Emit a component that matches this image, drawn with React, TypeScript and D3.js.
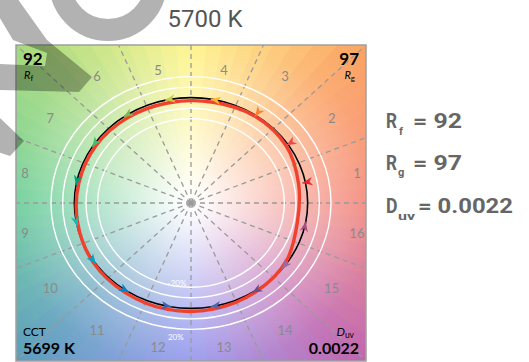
import React from 'react';
import * as d3 from 'd3';

const W = 529;
const H = 362;

// hue-bin labels and standard TM-30 bin colours
const binLabels = ['1','2','3','4','5','6','7','8','9','10','11','12','13','14','15','16'];
const binColors = ['#E62828','#E74B4B','#FB812E','#FFB529','#CBCA46','#7EB94C','#41C06D','#009C7C','#16BCB0','#00A4BF','#0085C3','#3B62AA','#4568AE','#6A4E85','#9D69A1','#A74F81'];
// relative chroma of the test source (red curve) at each bin centre
const testChroma = [0.94,0.98,0.99,0.975,0.97,0.975,0.98,0.98,0.99,1.01,1.02,1.03,1.025,1.01,0.985,0.93];
// arrow heads: relative chroma and hue shift (degrees)
const arrowChroma = [0.975,0.985,0.99,1.0,1.0,1.0,1.0,1.0,1.0,1.0,1.0,1.0,1.0,1.0,1.0,1.0];
const arrowHueShift = [0,0,0,1.5,1.5,1.5,1.5,1.5,1.5,1.5,1.5,1.5,-1.5,-2,-5,1];
const circleLevels = [0.8,0.9,1.1,1.2];
const hueStopAngles = [0,45,90,135,180,225,270,315,360];
const hueStopColors = ['#f27f72','#fba260','#fff37c','#a3d97c','#5cc98e','#5a9cbc','#8a8cec','#c064ae','#f27f72'];

const title = '5700 K';
const Rf = '92';
const Rg = '97';
const CCT = '5699 K';
const Duv = '0.0022';

const box = { x0: 16, x1: 366, y0: 45, y1: 361 };

export default function App() {
  const x = d3.scaleLinear().domain([-1.5, 1.5]).range([box.x0, box.x1]);
  const y = d3.scaleLinear().domain([1.5, -1.5]).range([box.y0, box.y1]);
  const hueScale = d3.scaleLinear<string>().domain(hueStopAngles).range(hueStopColors).interpolate(d3.interpolateRgb);
  const rad = (deg: number) => (deg * Math.PI) / 180;
  const P = (r: number, deg: number): [number, number] => [x(r * Math.cos(rad(deg))), y(r * Math.sin(rad(deg)))];

  // background wedges
  const wedges = d3.range(72).map((k) => {
    const a0 = k * 5, a1 = (k + 1) * 5 + 0.8;
    const [cx, cy] = P(0, 0);
    const p0 = P(2.4, a0), p1 = P(2.4, (a0 + a1) / 2), p2 = P(2.4, a1);
    return { d: `M${cx},${cy}L${p0[0]},${p0[1]}L${p1[0]},${p1[1]}L${p2[0]},${p2[1]}Z`, c: hueScale(k * 5 + 2.5) };
  });

  const cx0 = x(0), cy0 = y(0);
  const sx = x(1) - x(0), sy = y(0) - y(1);

  const binAngle = (i: number) => 11.25 + 22.5 * i;

  const line = d3.line<[number, number]>().curve(d3.curveCatmullRomClosed.alpha(0.5));
  const testPts = testChroma.map((r, i) => P(r, binAngle(i)));

  const arrows = binColors.map((c, i) => {
    const ref = P(1, binAngle(i));
    const tp = P(arrowChroma[i], binAngle(i) + arrowHueShift[i]);
    let dx = tp[0] - ref[0], dy = tp[1] - ref[1];
    const L = Math.hypot(dx, dy) || 1;
    dx /= L; dy /= L;
    const len = 10, hw = 4.2;
    const bx = tp[0] - dx * len, by = tp[1] - dy * len;
    const d = `M${tp[0]},${tp[1]}L${bx - dy * hw},${by + dx * hw}L${bx + dx * 3},${by + dy * 3}L${bx + dy * hw},${by - dx * hw}Z`;
    return { d, c, ref, tp };
  });

  const labelPos = binLabels.map((t, i) => {
    const a = rad(binAngle(i));
    let ux = 1.45 * Math.cos(a), uy = 1.45 * Math.sin(a);
    uy = Math.max(-1.37, Math.min(1.263, uy));
    return { t, px: x(ux), py: y(uy) };
  });

  const font = 'Lato, "Open Sans", sans-serif';

  return (
    <svg width={W} height={H} style={{ position: 'fixed', left: 0, top: 0, background: '#fff' }}>
      <defs>
        <clipPath id="boxclip">
          <rect x={box.x0} y={box.y0} width={box.x1 - box.x0} height={box.y1 - box.y0} />
        </clipPath>
        <radialGradient id="whiteFade" gradientUnits="userSpaceOnUse" cx={0} cy={0} r={1}
          gradientTransform={`translate(${cx0},${cy0}) scale(${sx * 2.12},${sy * 2.12})`}>
          <stop offset="0" stopColor="#fff" stopOpacity={1} />
          <stop offset="0.06" stopColor="#fff" stopOpacity={0.95} />
          <stop offset="0.45" stopColor="#fff" stopOpacity={0.45} />
          <stop offset="0.75" stopColor="#fff" stopOpacity={0.12} />
          <stop offset="1" stopColor="#fff" stopOpacity={0} />
        </radialGradient>
      </defs>

      <text x={205} y={26.5} textAnchor="middle" fontFamily="Roboto, 'Liberation Sans', sans-serif" fontSize={24} fill="#555">{title}</text>

      <g clipPath="url(#boxclip)">
        {wedges.map((w, i) => <path key={i} d={w.d} fill={w.c} />)}
        <rect x={box.x0} y={box.y0} width={box.x1 - box.x0} height={box.y1 - box.y0} fill="url(#whiteFade)" />
        {d3.range(16).map((k) => {
          const p = P(2.4, k * 22.5);
          return <line key={k} x1={cx0} y1={cy0} x2={p[0]} y2={p[1]} stroke="#9a9a9a" strokeWidth={1.3} strokeDasharray="5,4" />;
        })}
        {circleLevels.map((r) => (
          <ellipse key={r} cx={cx0} cy={cy0} rx={sx * r} ry={sy * r} fill="none" stroke="#fff" strokeWidth={1.4} />
        ))}
        <ellipse cx={cx0} cy={cy0} rx={sx} ry={sy} fill="none" stroke="#000" strokeWidth={1.6} />
        <path d={line(testPts) || ''} fill="none" stroke="#f0412f" strokeWidth={3.4} strokeLinejoin="round" />
        {arrows.map((a, i) => (
          <g key={i}>
            <line x1={a.ref[0]} y1={a.ref[1]} x2={a.tp[0]} y2={a.tp[1]} stroke={a.c} strokeWidth={1.5} />
            <path d={a.d} fill={a.c} />
          </g>
        ))}
        {labelPos.map((l) => (
          <text key={l.t} x={l.px} y={l.py} textAnchor="middle" dominantBaseline="central" fontFamily={font} fontSize={13} fill="#8a8a8a">{l.t}</text>
        ))}
        <text x={x(-0.12)} y={y(-0.76)} textAnchor="middle" dominantBaseline="central" fontFamily={font} fontSize={8} fill="#fff">-20%</text>
        <text x={x(-0.13)} y={y(-1.27)} textAnchor="middle" dominantBaseline="central" fontFamily={font} fontSize={8} fill="#fff">20%</text>

        <text x={23} y={64.5} fontFamily={font} fontWeight={700} fontSize={17} fill="#000">{Rf}</text>
        <text x={24} y={79} fontFamily={font} fontSize={11} fill="#000"><tspan fontStyle="italic">R</tspan><tspan fontSize={8} dy={2}>f</tspan></text>
        <text x={359} y={64.5} textAnchor="end" fontFamily={font} fontWeight={700} fontSize={17} fill="#000">{Rg}</text>
        <text x={355} y={79} textAnchor="end" fontFamily={font} fontSize={11} fill="#000"><tspan fontStyle="italic">R</tspan><tspan fontSize={8} dy={2}>g</tspan></text>
        <text x={23} y={336} fontFamily={font} fontSize={12} fill="#000">CCT</text>
        <text x={23} y={354} fontFamily={font} fontWeight={700} fontSize={16} fill="#000">{CCT}</text>
        <text x={354} y={336} textAnchor="end" fontFamily={font} fontSize={12} fill="#000"><tspan fontStyle="italic">D</tspan><tspan fontSize={8.5} dy={1.5}>uv</tspan></text>
        <text x={359} y={354} textAnchor="end" fontFamily={font} fontWeight={700} fontSize={16} fill="#000">{Duv}</text>
      </g>
      <rect x={box.x0} y={box.y0} width={box.x1 - box.x0} height={box.y1 - box.y0} fill="none" stroke="#a0a0a0" strokeWidth={1.5} />

      <g fontFamily="Roboto, 'Liberation Sans', sans-serif" fontWeight={700} fill="#666">
        <text x={386} y={128.3} fontSize={21} textLength={11} lengthAdjust="spacingAndGlyphs">R</text>
        <text x={399} y={134.5} fontSize={11}>f</text>
        <text x={413} y={128.3} fontSize={21} textLength={49} lengthAdjust="spacingAndGlyphs">= {Rf}</text>
        <text x={386} y={170} fontSize={21} textLength={11} lengthAdjust="spacingAndGlyphs">R</text>
        <text x={398} y={176} fontSize={11}>g</text>
        <text x={413} y={170} fontSize={21} textLength={49} lengthAdjust="spacingAndGlyphs">= {Rg}</text>
        <text x={386} y={213} fontSize={21} textLength={11.5} lengthAdjust="spacingAndGlyphs">D</text>
        <text x={398} y={219.5} fontSize={11} textLength={17} lengthAdjust="spacingAndGlyphs">uv</text>
        <text x={418} y={213} fontSize={21} textLength={95} lengthAdjust="spacingAndGlyphs">= {Duv}</text>
      </g>

      {/* watermark */}
      <g fill="#000" fillOpacity={0.3} stroke="none">
        <path d="M-2,-2L17,-2L47,40L92,77L79,92L-2,90L-2,64L45,66L47,53L13,40L-2,15Z" />
        <path d="M-2,116L24,141L10,156L-2,152Z" />
      </g>
      <circle cx={108} cy={-18} r={48} fill="none" stroke="#000" strokeOpacity={0.3} strokeWidth={22} />
    </svg>
  );
}
